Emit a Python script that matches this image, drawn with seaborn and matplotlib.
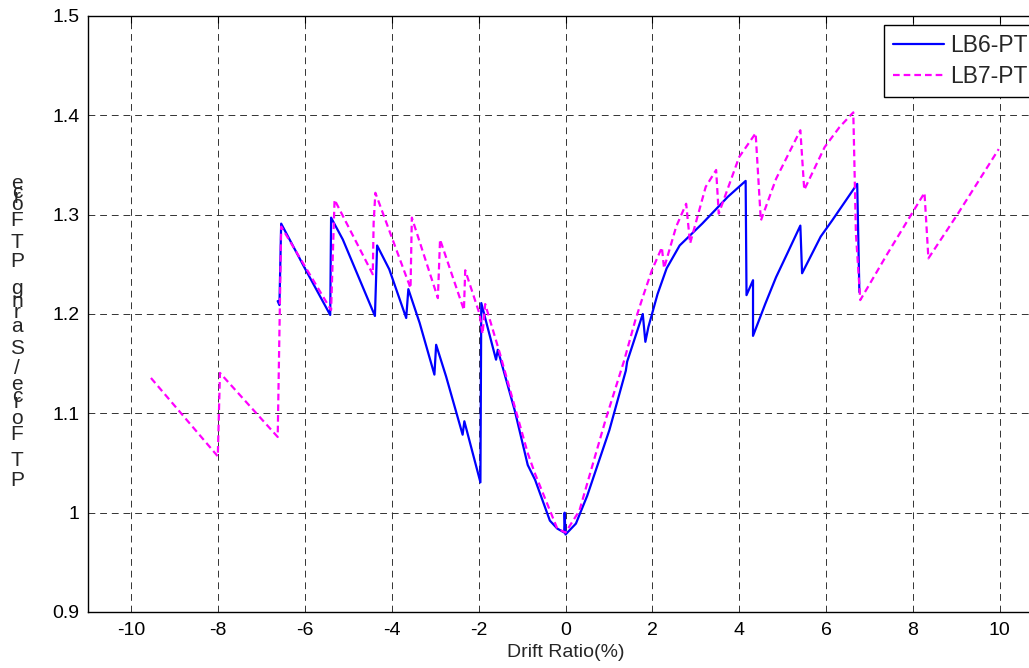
import numpy as np
import pandas as pd
import seaborn as sns
import matplotlib
matplotlib.use("Agg")
import matplotlib.pyplot as plt

# LB6-PT (blue, solid)
lb6_x = [-6.63, -6.59, -6.55, -5.98, -5.42, -5.40, -5.13, -4.39, -4.34, -4.06, -3.67, -3.62, -3.36,
         -3.02, -2.98, -2.75, -2.37, -2.33, -1.96, -1.94, -1.60, -1.56, -1.17, -0.87, -0.70,
         -0.36, -0.19, -0.03, -0.02, 0.0, 0.24, 0.50, 1.01, 1.39, 1.42, 1.78, 1.84, 1.91, 2.12,
         2.33, 2.63, 3.15, 3.74, 4.15, 4.17, 4.32, 4.32, 4.60, 4.85, 5.11, 5.41, 5.45, 5.88,
         6.14, 6.72, 6.77]
lb6_y = [1.213, 1.209, 1.291, 1.244, 1.199, 1.297, 1.275, 1.198, 1.269, 1.245, 1.196, 1.225, 1.191,
         1.139, 1.169, 1.137, 1.0785, 1.092, 1.0305, 1.211, 1.154, 1.164, 1.103, 1.048, 1.033,
         0.992, 0.984, 0.980, 1.000, 0.978, 0.989, 1.017, 1.083, 1.143, 1.152, 1.200, 1.172, 1.187, 1.220,
         1.246, 1.269, 1.291, 1.318, 1.334, 1.219, 1.234, 1.178, 1.210, 1.237, 1.261, 1.289, 1.241, 1.278,
         1.294, 1.331, 1.222]

# LB7-PT (magenta, dashed)
lb7_x = [-9.55, -8.01, -7.96, -6.63, -6.55, -5.40, -5.32, -4.44, -4.42, -4.38, -3.57, -3.54, -2.94,
         -2.89, -2.34, -2.31, -1.98, -1.91, -1.85, -1.51, -1.21, -0.87, -0.70, -0.19, 0.0, 0.32,
         0.92, 1.35, 1.61, 1.78, 1.99, 2.22, 2.27, 2.55, 2.78, 2.87, 3.23, 3.47, 3.53, 4.00, 4.38,
         4.50, 4.85, 5.41, 5.50, 5.97, 6.31, 6.63, 6.69, 6.79, 7.42, 8.27, 8.36, 9.04, 9.98]
lb7_y = [1.1356, 1.0567, 1.1407, 1.0762, 1.288, 1.204, 1.315, 1.240, 1.2917, 1.322, 1.226, 1.297, 1.216,
         1.275, 1.204, 1.244, 1.200, 1.180, 1.210, 1.160, 1.113, 1.060, 1.039, 0.984, 0.980, 1.002,
         1.093, 1.153, 1.194, 1.217, 1.244, 1.267, 1.246, 1.288, 1.311, 1.271, 1.328, 1.345, 1.301, 1.358, 1.382,
         1.294, 1.336, 1.385, 1.325, 1.368, 1.388, 1.403, 1.281, 1.214, 1.261, 1.322, 1.256, 1.301, 1.366]

x_ticks = [-10, -8, -6, -4, -2, 0, 2, 4, 6, 8, 10]
y_ticks = [0.9, 1.0, 1.1, 1.2, 1.3, 1.4, 1.5]
y_tick_labels = ["0.9", "1", "1.1", "1.2", "1.3", "1.4", "1.5"]

# garbled y label, one glyph at a time (char, pixel row of centre)
ylab_chars = ["e", "c", "r", "o", "F", "T", "P", "g", "n", "r", "a", "S", "/",
              "e", "c", "r", "o", "F", "T", "P"]
ylab_rows = [184, 192, 198, 204, 221, 243, 261, 288, 301, 312, 327, 348, 368,
             385, 396, 403, 418, 435, 460, 481]

sns.set_theme(style="white")
plt.rcParams["font.family"] = ["Liberation Sans", "DejaVu Sans"]

df6 = pd.DataFrame({"x": lb6_x, "y": lb6_y})
df7 = pd.DataFrame({"x": lb7_x, "y": lb7_y})

W, H = 1029, 668
fig = plt.figure(figsize=(W / 100, H / 100), dpi=100)
# axes run a little past the right edge of the picture, as in the original crop
ax = fig.add_axes([88 / W, (H - 612) / H, (1043 - 88) / W, 596 / H])

sns.lineplot(data=df6, x="x", y="y", sort=False, estimator=None, ax=ax,
             color="#0000ff", linewidth=1.6, label="LB6-PT")
sns.lineplot(data=df7, x="x", y="y", sort=False, estimator=None, ax=ax,
             color="#ff00ff", linewidth=1.6, linestyle=(0, (3, 1.8)), label="LB7-PT")

ax.set_xlim(-11, 11)
ax.set_ylim(0.9, 1.5)
ax.set_xticks(x_ticks)
ax.set_xticklabels([str(t) for t in x_ticks])
ax.set_yticks(y_ticks)
ax.set_yticklabels(y_tick_labels)
ax.tick_params(direction="in", length=5, width=0.8, top=True, right=True,
               labelsize=14, colors="black")
ax.tick_params(axis="x", pad=7)
ax.tick_params(axis="y", pad=6)
ax.grid(True, color="0.2", linestyle=(0, (7, 5)), linewidth=0.7)
for s in ax.spines.values():
    s.set_color("black")
    s.set_linewidth(1.0)

ax.set_xlabel("Drift Ratio(%)", fontsize=14, labelpad=4)
ax.set_ylabel("")

leg = ax.legend(loc="upper left", bbox_to_anchor=((884 - 88) / 955, (612 - 25) / 596),
                borderaxespad=0, fontsize=16.5, frameon=True, fancybox=False,
                handlelength=2.2, handletextpad=0.3, borderpad=0.4, labelspacing=0.35)
leg.get_frame().set_edgecolor("black")
leg.get_frame().set_linewidth(1.0)
leg.get_frame().set_alpha(1)

for ch, row in zip(ylab_chars, ylab_rows):
    fig.text(17 / W, 1 - row / H, ch, fontsize=15, ha="center", va="center")

fig.savefig("out.png", dpi=100)
